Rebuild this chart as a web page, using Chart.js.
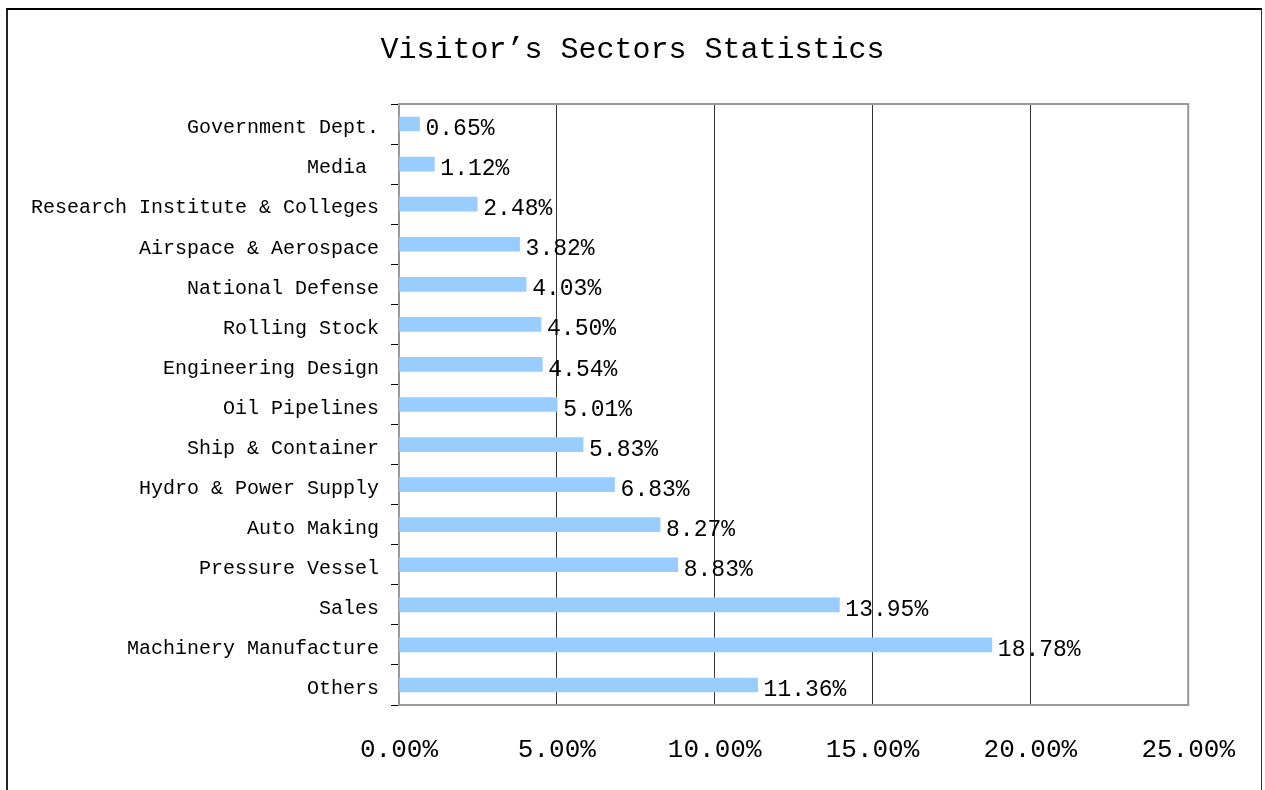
<!DOCTYPE html>
<html>
<head>
<meta charset="utf-8">
<script src="https://cdn.jsdelivr.net/npm/chart.js@4.4.0/dist/chart.umd.min.js"></script>
<style>
  body { margin: 0; background: #fff; }
  #wrap { position: absolute; left: 0; top: 0; width: 1265px; height: 790px; }
  #frame {
    position: absolute; left: 6px; top: 8px; width: 1253px; height: 800px;
    border-left: 2px solid #222; border-top: 2px solid #000; border-right: 1px solid #333;
    pointer-events: none;
  }
</style>
</head>
<body>
<div id="wrap">
  <canvas id="chart" width="1265" height="790"></canvas>
  <div id="frame"></div>
</div>
<script>
// sectors, top to bottom
var sectors = [
  'Government Dept.', 'Media ', 'Research Institute & Colleges', 'Airspace & Aerospace',
  'National Defense', 'Rolling Stock', 'Engineering Design', 'Oil Pipelines',
  'Ship & Container', 'Hydro & Power Supply', 'Auto Making', 'Pressure Vessel',
  'Sales', 'Machinery Manufacture', 'Others'
];
var shares = [0.65, 1.12, 2.48, 3.82, 4.03, 4.50, 4.54, 5.01, 5.83, 6.83, 8.27, 8.83, 13.95, 18.78, 11.36];
var xTicks = [0, 5, 10, 15, 20, 25];
var chartTitle = 'Visitor\u2019s Sectors Statistics';

var FONT = "'Liberation Mono', 'DejaVu Sans Mono', monospace";

// grey frame round the plot area
var plotFrame = {
  id: 'plotFrame',
  beforeDatasetsDraw: function (chart) {
    var a = chart.chartArea, ctx = chart.ctx;
    ctx.save();
    ctx.strokeStyle = '#999';
    ctx.lineWidth = 2;
    ctx.strokeRect(a.left, a.top, a.right - a.left, a.bottom - a.top);
    ctx.restore();
  }
};

// title centred on the whole page, not on the padded box
var pageTitle = {
  id: 'pageTitle',
  afterDraw: function (chart) {
    var ctx = chart.ctx;
    ctx.save();
    ctx.font = '30px ' + FONT;
    ctx.fillStyle = '#000';
    ctx.textAlign = 'center';
    ctx.textBaseline = 'middle';
    ctx.fillText(chartTitle, chart.width / 2, 50);
    ctx.restore();
  }
};

// value labels at the end of each bar
var valueLabels = {
  id: 'valueLabels',
  afterDatasetsDraw: function (chart) {
    var ctx = chart.ctx;
    var meta = chart.getDatasetMeta(0);
    ctx.save();
    ctx.font = '23px ' + FONT;
    ctx.fillStyle = '#000';
    ctx.textBaseline = 'middle';
    ctx.textAlign = 'left';
    meta.data.forEach(function (bar, i) {
      ctx.fillText(shares[i].toFixed(2) + '%', bar.x + 6, bar.y + 5);
    });
    ctx.restore();
  }
};

new Chart(document.getElementById('chart'), {
  type: 'bar',
  data: {
    labels: sectors,
    datasets: [{
      data: shares,
      backgroundColor: '#99CCFF',
      borderWidth: 0,
      barThickness: 14
    }]
  },
  options: {
    indexAxis: 'y',
    responsive: false,
    animation: false,
    layout: { padding: { left: 0, right: 76, top: 104, bottom: 0 } },
    plugins: {
      legend: { display: false },
      tooltip: { enabled: false },
      title: { display: false }
    },
    scales: {
      x: {
        min: 0,
        max: 25,
        afterBuildTicks: function (scale) {
          scale.ticks = xTicks.map(function (v) { return { value: v }; });
        },
        afterFit: function (scale) { scale.height = 85; },
        border: { color: '#000', width: 2 },
        grid: { color: '#333', lineWidth: 1, drawTicks: false },
        ticks: {
          color: '#000',
          padding: 30,
          maxRotation: 0,
          font: { family: FONT, size: 26 },
          callback: function (v) { return Number(v).toFixed(2) + '%'; }
        }
      },
      y: {
        afterFit: function (scale) { scale.width = 399; },
        border: { color: '#000', width: 2 },
        grid: { drawOnChartArea: false, color: '#000', tickLength: 8, offset: true },
        ticks: {
          color: '#000',
          padding: 12,
          labelOffset: 4,
          font: { family: FONT, size: 20 }
        }
      }
    }
  },
  plugins: [plotFrame, valueLabels, pageTitle]
});
</script>
</body>
</html>
